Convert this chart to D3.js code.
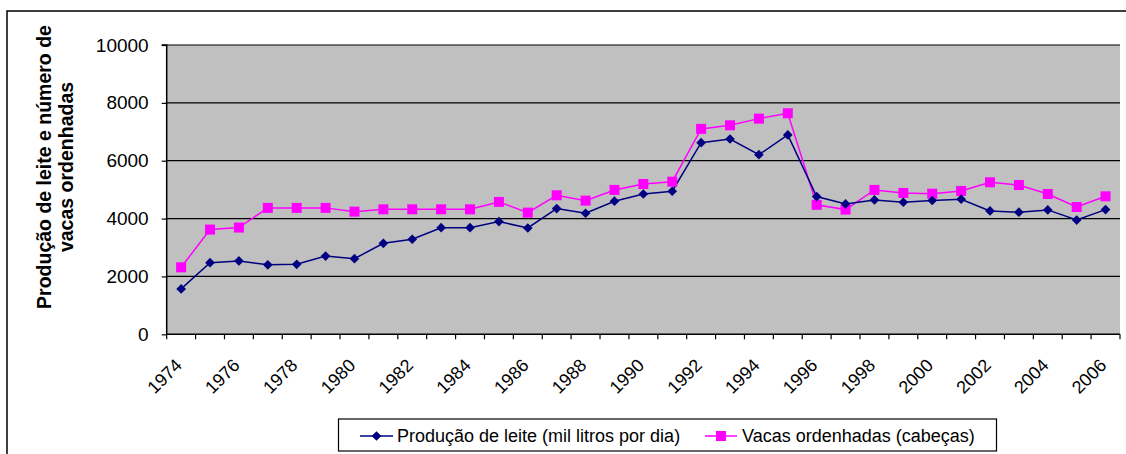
<!DOCTYPE html>
<html>
<head>
<meta charset="utf-8">
<script src="https://cdn.jsdelivr.net/npm/d3@7"></script>
<style>
  body { margin: 0; background: #fff; }
  svg { display: block; font-family: "Liberation Sans", Arial, sans-serif; }
</style>
</head>
<body>
<svg id="chart" width="1126" height="454"></svg>
<script>
// --- DATA ---
const years = d3.range(1974, 2007);
const leite = [1570, 2475, 2535, 2400, 2420, 2705, 2615, 3145, 3285, 3685, 3685, 3895,
  3675, 4345, 4185, 4600, 4850, 4945, 6625, 6750, 6210, 6890, 4760, 4505, 4645, 4565,
  4625, 4670, 4265, 4220, 4300, 3950, 4310];
const vacas = [2315, 3620, 3690, 4370, 4370, 4370, 4240, 4320, 4320, 4320, 4320, 4575,
  4205, 4805, 4620, 4990, 5195, 5275, 7100, 7225, 7455, 7640, 4475, 4310, 4990, 4885,
  4860, 4955, 5255, 5160, 4850, 4400, 4770];
const yTicks = [0, 2000, 4000, 6000, 8000, 10000];
const seriesNames = ["Produção de leite (mil litros por dia)", "Vacas ordenhadas (cabeças)"];

// --- LAYOUT ---
const LEFT = 166.7, RIGHT = 1120, TOP = 45, BOTTOM = 334.3;
const svg = d3.select("#chart");

// outer frame
svg.append("rect").attr("x", 7).attr("y", 11).attr("width", 1140).attr("height", 470)
  .attr("fill", "none").attr("stroke", "#000").attr("stroke-width", 1.5);

const x = d3.scaleBand().domain(years).range([LEFT, RIGHT]).padding(0);
const y = d3.scaleLinear().domain([0, 10000]).range([BOTTOM, TOP]);

// plot area
svg.append("rect").attr("x", LEFT).attr("y", TOP).attr("width", RIGHT - LEFT)
  .attr("height", BOTTOM - TOP).attr("fill", "#c0c0c0");

// gridlines
svg.append("g").selectAll("line").data(yTicks.filter(d => d > 0)).join("line")
  .attr("x1", LEFT).attr("x2", RIGHT)
  .attr("y1", d => y(d)).attr("y2", d => y(d))
  .attr("stroke", "#000").attr("stroke-width", 1.2);

// y axis
const yAxis = svg.append("g").attr("transform", `translate(${LEFT},0)`)
  .call(d3.axisLeft(y).tickValues(yTicks).tickSize(5).tickPadding(13).tickFormat(d3.format("d")));
yAxis.select(".domain").attr("stroke", "#000").attr("stroke-width", 1.5).attr("d", `M-5,${TOP}H0V${BOTTOM}`);
yAxis.selectAll(".tick line").attr("stroke", "#000").attr("stroke-width", 1.2);
yAxis.selectAll(".tick text").attr("font-size", 19).attr("fill", "#000")
  .attr("font-family", "Liberation Sans, Arial, sans-serif");

// x axis line and boundary ticks
svg.append("line").attr("x1", LEFT).attr("x2", RIGHT).attr("y1", BOTTOM).attr("y2", BOTTOM)
  .attr("stroke", "#000").attr("stroke-width", 1.5);
const bounds = years.map(d => x(d)).concat([RIGHT]);
svg.append("g").selectAll("line").data(bounds).join("line")
  .attr("x1", d => d).attr("x2", d => d).attr("y1", BOTTOM).attr("y2", BOTTOM + 5)
  .attr("stroke", "#000").attr("stroke-width", 1.2);

// x labels
svg.append("g").selectAll("text").data(years.filter(d => d % 2 === 0)).join("text")
  .attr("transform", d => `translate(${x(d) + x.bandwidth() / 2 + 2},366.5) rotate(-45)`)
  .attr("text-anchor", "end").attr("font-size", 18).attr("fill", "#000")
  .text(d => d);

// y title
const yTitle = svg.append("text").attr("transform", "translate(0,167) rotate(-90)")
  .attr("text-anchor", "middle").attr("font-weight", "bold").attr("font-size", 19.5);
yTitle.append("tspan").attr("x", 0).attr("y", 51).text("Produção de leite  e número de");
yTitle.append("tspan").attr("x", 0).attr("y", 73).text("vacas ordenhadas");

// lines
const cx = (d, i) => x(years[i]) + x.bandwidth() / 2;
const line = d3.line().x(cx).y(d => y(d));
const diamond = d3.symbol().type(d3.symbolDiamond2).size(60);

svg.append("path").datum(vacas).attr("d", line).attr("fill", "none")
  .attr("stroke", "#ff00ff").attr("stroke-width", 1.5);
svg.append("path").datum(leite).attr("d", line).attr("fill", "none")
  .attr("stroke", "#000080").attr("stroke-width", 1.5);

svg.append("g").selectAll("rect").data(vacas).join("rect")
  .attr("x", (d, i) => cx(d, i) - 5).attr("y", d => y(d) - 5)
  .attr("width", 10).attr("height", 10).attr("fill", "#ff00ff");
svg.append("g").selectAll("path").data(leite).join("path")
  .attr("transform", (d, i) => `translate(${cx(d, i)},${y(d)})`)
  .attr("d", diamond).attr("fill", "#000080");

// legend
const lg = svg.append("g");
lg.append("rect").attr("x", 338.5).attr("y", 419).attr("width", 658).attr("height", 32)
  .attr("fill", "#fff").attr("stroke", "#000").attr("stroke-width", 1.2);
lg.append("line").attr("x1", 360).attr("x2", 393).attr("y1", 436).attr("y2", 436)
  .attr("stroke", "#000080").attr("stroke-width", 1.5);
lg.append("path").attr("transform", "translate(376.5,436)").attr("d", diamond).attr("fill", "#000080");
lg.append("text").attr("x", 397).attr("y", 442).attr("font-size", 18).text(seriesNames[0]);
lg.append("line").attr("x1", 705).attr("x2", 737).attr("y1", 436).attr("y2", 436)
  .attr("stroke", "#ff00ff").attr("stroke-width", 1.5);
lg.append("rect").attr("x", 716).attr("y", 431).attr("width", 10).attr("height", 10).attr("fill", "#ff00ff");
lg.append("text").attr("x", 742).attr("y", 442).attr("font-size", 18).text(seriesNames[1]);
</script>
</body>
</html>
